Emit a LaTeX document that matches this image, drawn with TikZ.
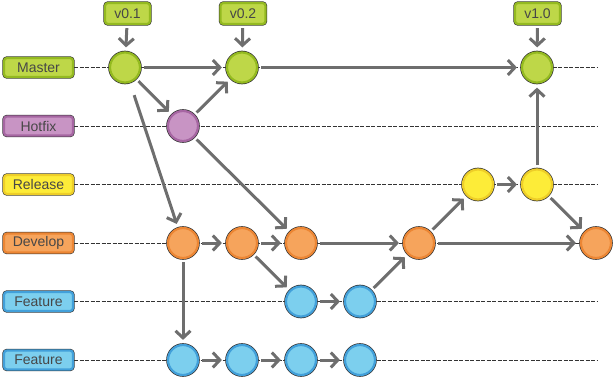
\documentclass[tikz,border=0pt]{standalone}
\usepackage{fontspec}
\setmainfont{Liberation Sans}
\usetikzlibrary{arrows.meta}

\definecolor{masterfill}{RGB}{190,215,72}
\definecolor{masterring}{RGB}{148,186,32}
\definecolor{hotfixfill}{RGB}{200,148,196}
\definecolor{hotfixring}{RGB}{166,102,162}
\definecolor{releasefill}{RGB}{253,236,56}
\definecolor{releasering}{RGB}{238,206,40}
\definecolor{developfill}{RGB}{246,164,92}
\definecolor{developring}{RGB}{236,134,52}
\definecolor{featurefill}{RGB}{124,207,238}
\definecolor{featurering}{RGB}{66,160,218}
\definecolor{flowgray}{RGB}{110,110,110}

\begin{document}
\begin{tikzpicture}[x=1pt, y=-1pt,
	commit/.style={circle, minimum size=30pt, inner sep=0pt, fill=#1fill, draw=#1ring,
		line width=2.2pt, preaction={draw=black!80, line width=3.6pt}},
	branch/.style={rounded corners=3pt, minimum width=69pt, minimum height=19pt, inner sep=0pt,
		fill=#1fill, draw=#1ring, line width=2.2pt, preaction={draw=black!80, line width=3.4pt},
		text=black!72, font=\fontsize{14}{16}\selectfont},
	tag/.style={branch=master, minimum width=45pt, minimum height=21pt},
	flow/.style={draw=flowgray, line width=3pt, -{Straight Barb[length=7pt,width=15pt]},
		shorten <=3pt, shorten >=4pt},
	lane/.style={draw=black!80, line width=0.7pt, dash pattern=on 4pt off 1.5pt}]
	\useasboundingbox (0,0) rectangle (614,380);

	% branch labels
	\node[branch=master] (master) at (38.5,67.5) {Master};
	\node[branch=hotfix] (hotfix) at (38.5,126) {Hotfix};
	\node[branch=release] (release) at (38.5,184.5) {Release};
	\node[branch=develop] (develop) at (38.5,243) {Develop};
	\node[branch=feature] (featA) at (38.5,301.5) {Feature};
	\node[branch=feature] (featB) at (38.5,360) {Feature};

	% lanes
	\coordinate (end) at (598,0);
	\foreach \b in {master,hotfix,release,develop,featA,featB}
		\draw[lane] (\b.east) -- (\b.east -| end);

	% tags
	\node[tag] (v01) at (127.5,13.5) {v0.1};
	\node[tag] (v02) at (243,13.5) {v0.2};
	\node[tag] (v10) at (537.5,13.5) {v1.0};

	% commits
	\node[commit=master] (m1) at (125,67.5) {};
	\node[commit=master] (m2) at (242,67.5) {};
	\node[commit=master] (m3) at (537,67.5) {};
	\node[commit=hotfix] (h1) at (183,126) {};
	\node[commit=release] (r1) at (478,184.5) {};
	\node[commit=release] (r2) at (537,184.5) {};
	\node[commit=develop] (d1) at (183,243) {};
	\node[commit=develop] (d2) at (242,243) {};
	\node[commit=develop] (d3) at (301,243) {};
	\node[commit=develop] (d4) at (419,243) {};
	\node[commit=develop] (d5) at (596,243) {};
	\node[commit=feature] (fa1) at (301,301.5) {};
	\node[commit=feature] (fa2) at (360,301.5) {};
	\node[commit=feature] (fb1) at (183,360) {};
	\node[commit=feature] (fb2) at (242,360) {};
	\node[commit=feature] (fb3) at (301,360) {};
	\node[commit=feature] (fb4) at (360,360) {};

	% history
	\draw[flow] (v01) -- (m1);
	\draw[flow] (v02) -- (m2);
	\draw[flow] (v10) -- (m3);
	\draw[flow] (m1) -- (m2);
	\draw[flow] (m2) -- (m3);
	\draw[flow] (m1) -- (h1);
	\draw[flow] (h1) -- (m2);
	\draw[flow, shorten <=13pt] (m1) -- (d1);
	\draw[flow] (h1) -- (d3);
	\draw[flow] (d1) -- (d2);
	\draw[flow] (d2) -- (d3);
	\draw[flow] (d3) -- (d4);
	\draw[flow] (d4) -- (d5);
	\draw[flow] (d2) -- (fa1);
	\draw[flow] (fa1) -- (fa2);
	\draw[flow] (fa2) -- (d4);
	\draw[flow] (d4) -- (r1);
	\draw[flow] (r1) -- (r2);
	\draw[flow] (r2) -- (m3);
	\draw[flow] (r2) -- (d5);
	\draw[flow] (d1) -- (fb1);
	\draw[flow] (fb1) -- (fb2);
	\draw[flow] (fb2) -- (fb3);
	\draw[flow] (fb3) -- (fb4);
\end{tikzpicture}
\end{document}
